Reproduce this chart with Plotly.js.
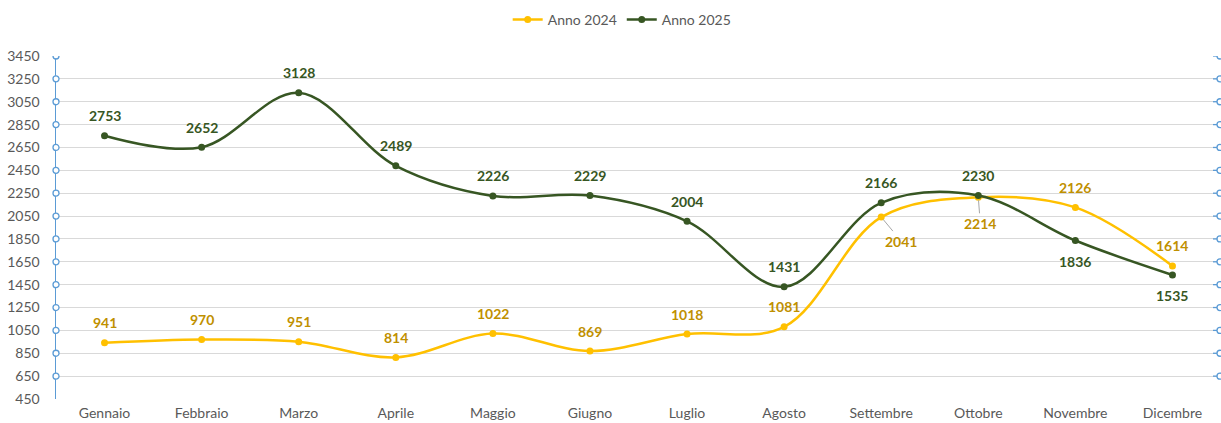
<!DOCTYPE html>
<html>
<head>
<meta charset="utf-8">
<script src="https://cdn.plot.ly/plotly-3.0.1.min.js"></script>
<style>
html,body{margin:0;padding:0;background:#fff;}
#chart{width:1221px;height:423px;}
</style>
</head>
<body>
<div id="chart"></div>
<script>
const months = ["Gennaio","Febbraio","Marzo","Aprile","Maggio","Giugno","Luglio","Agosto","Settembre","Ottobre","Novembre","Dicembre"];
const anno2024 = [941, 970, 951, 814, 1022, 869, 1018, 1081, 2041, 2214, 2126, 1614];
const anno2025 = [2753, 2652, 3128, 2489, 2226, 2229, 2004, 1431, 2166, 2230, 1836, 1535];
const yTicks = [450, 650, 850, 1050, 1250, 1450, 1650, 1850, 2050, 2250, 2450, 2650, 2850, 3050, 3250, 3450];

// label placement per point (style only)
const place2024 = ["a","a","a","a","a","a","a","a","leader","leaderDown","a","a"];
const place2025 = ["a","a","a","a","a","a","a","a","a","a","b","b"];

const c24 = "#FFC000", c24t = "#BF9000";
const c25 = "#375623", c25t = "#375623";
const font = "Lato, 'Open Sans', sans-serif";

const traces = [
  {x: months, y: anno2024, name: "Anno 2024", type: "scatter", mode: "lines+markers",
   line: {color: c24, width: 2.5, shape: "spline", smoothing: 1},
   marker: {color: c24, size: 7}},
  {x: months, y: anno2025, name: "Anno 2025", type: "scatter", mode: "lines+markers",
   line: {color: c25, width: 2.5, shape: "spline", smoothing: 1},
   marker: {color: c25, size: 7}}
];

const annotations = [];
function addLabels(vals, places, color) {
  vals.forEach((v, i) => {
    const p = places[i];
    const base = {x: months[i], y: v, xref: "x", yref: "y", text: "<b>" + v + "</b>",
      font: {family: font, size: 14, color: color}};
    if (p === "a") {
      annotations.push(Object.assign(base, {showarrow: false, yshift: 20}));
    } else if (p === "b") {
      annotations.push(Object.assign(base, {showarrow: false, yshift: -21}));
    } else if (p === "leader") {
      annotations.push(Object.assign(base, {showarrow: true, arrowhead: 0, arrowwidth: 1,
        arrowcolor: "#A6A6A6", ax: 20, ay: 24, standoff: 3}));
    } else if (p === "leaderDown") {
      annotations.push(Object.assign(base, {showarrow: true, arrowhead: 0, arrowwidth: 1,
        arrowcolor: "#A6A6A6", ax: 2, ay: 26, standoff: 3}));
    }
  });
}
addLabels(anno2024, place2024, c24t);
addLabels(anno2025, place2025, c25t);

const shapes = [];
yTicks.filter(t => t > yTicks[0]).forEach(t => {
  shapes.push({type: "circle", xref: "paper", yref: "y", xsizemode: "pixel", ysizemode: "pixel",
    xanchor: 0, yanchor: t, x0: -3, x1: 3, y0: -3, y1: 3,
    line: {color: "#5B9BD5", width: 1.3}, fillcolor: "#fff", layer: "above"});
  shapes.push({type: "line", xref: "paper", yref: "y", xsizemode: "pixel",
    xanchor: 1, x0: -8, x1: -4, y0: t, y1: t, line: {color: "#5B9BD5", width: 1.3}, layer: "above"});
  shapes.push({type: "circle", xref: "paper", yref: "y", xsizemode: "pixel", ysizemode: "pixel",
    xanchor: 1, yanchor: t, x0: -4, x1: 2, y0: -3, y1: 3,
    line: {color: "#5B9BD5", width: 1.3}, fillcolor: "#fff", layer: "above"});
});

const layout = {
  width: 1221, height: 423,
  margin: {l: 56, r: 0, t: 56, b: 24},
  paper_bgcolor: "#fff", plot_bgcolor: "#fff",
  font: {family: font, size: 14, color: "#595959"},
  showlegend: true,
  legend: {orientation: "h", x: 0.486, xanchor: "center", y: 0.953, yanchor: "middle",
    yref: "container", font: {family: font, size: 14, color: "#595959"}},
  xaxis: {type: "category", range: [-0.5, 11.5], showgrid: false, zeroline: false,
    showline: false, ticks: "", tickfont: {family: font, size: 14, color: "#595959"},
    ticklabelstandoff: 4, fixedrange: true},
  yaxis: {range: [450, 3450], tickvals: yTicks, ticktext: yTicks.map(String),
    showgrid: true, gridcolor: "#D9D9D9", gridwidth: 1, zeroline: false,
    showline: true, linecolor: "#5B9BD5", linewidth: 1.5, ticks: "",
    tickfont: {family: font, size: 14, color: "#595959"}, ticklabelstandoff: 12, fixedrange: true},
  annotations: annotations,
  shapes: shapes
};

Plotly.newPlot("chart", traces, layout, {displayModeBar: false, staticPlot: true});
</script>
</body>
</html>
